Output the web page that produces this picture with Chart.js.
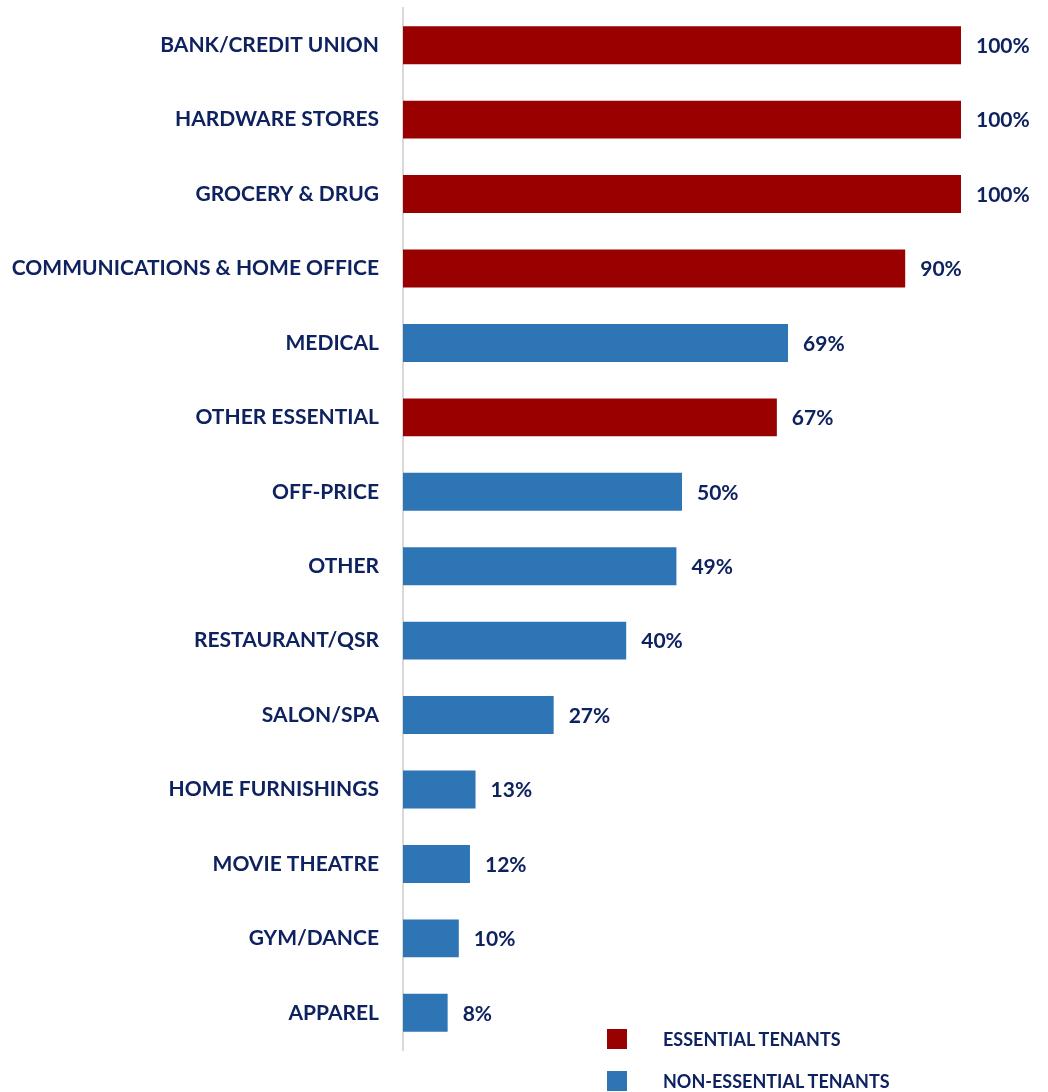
<!DOCTYPE html>
<html>
<head>
<meta charset="utf-8">
<script src="https://cdn.jsdelivr.net/npm/chart.js@4.4.1/dist/chart.umd.min.js"></script>
<style>
	body { margin: 0; background: #fff; }
	#wrap { position: relative; width: 1048px; height: 1092px; }
	canvas { display: block; }
	.legend { position: absolute; left: 607px; font: bold 18px Lato, sans-serif; color: #0f2260; }
	.legend span { position: absolute; left: 0; width: 20px; height: 20px; }
	.legend div { position: absolute; left: 56px; white-space: nowrap; line-height: 20px; }
</style>
</head>
<body>
<div id="wrap">
	<canvas id="tenantChart" width="1048" height="1092"></canvas>
	<div class="legend" style="top:1029px"><span style="background:#990000"></span><div>ESSENTIAL TENANTS</div></div>
	<div class="legend" style="top:1071px"><span style="background:#2E75B6"></span><div>NON-ESSENTIAL TENANTS</div></div>
</div>
<script>
// categories, top to bottom
const categories = ["BANK/CREDIT UNION", "HARDWARE STORES", "GROCERY & DRUG", "COMMUNICATIONS & HOME OFFICE", "MEDICAL", "OTHER ESSENTIAL", "OFF-PRICE", "OTHER", "RESTAURANT/QSR", "SALON/SPA", "HOME FURNISHINGS", "MOVIE THEATRE", "GYM/DANCE", "APPAREL"];
const values = [100, 100, 100, 90, 69, 67, 50, 49, 40, 27, 13, 12, 10, 8];
const essential = [true, true, true, true, false, true, false, false, false, false, false, false, false, false];

const essentialColor = "#990000";
const nonEssentialColor = "#2E75B6";
const textColor = "#0f2260";

// draws the % labels at the end of each bar
const valueLabels = {
	id: 'valueLabels',
	afterDatasetsDraw(chart) {
		const ctx = chart.ctx;
		const meta = chart.getDatasetMeta(0);
		ctx.save();
		ctx.font = "bold 21px Lato, sans-serif";
		ctx.fillStyle = textColor;
		ctx.textAlign = "left";
		ctx.textBaseline = "middle";
		meta.data.forEach((bar, i) => {
			ctx.fillText(values[i] + "%", bar.x + 15, bar.y + 1);
		});
		ctx.restore();
	}
};

new Chart(document.getElementById("tenantChart"), {
	type: "bar",
	data: {
		labels: categories,
		datasets: [{
			data: values,
			backgroundColor: essential.map(e => e ? essentialColor : nonEssentialColor),
			barPercentage: 0.51,
			categoryPercentage: 1
		}]
	},
	options: {
		indexAxis: "y",
		responsive: false,
		animation: false,
		layout: { padding: { top: 8, right: 87, bottom: 42, left: 0 } },
		plugins: {
			legend: { display: false },
			tooltip: { enabled: false }
		},
		scales: {
			x: { display: false, min: 0, max: 100 },
			y: {
				afterFit(scale) {
					scale.width = 403;
					scale.paddingTop = 0;
					scale.paddingBottom = 0;
				},
				grid: { display: false },
				border: { display: true, color: "#D9D9D9", width: 2 },
				ticks: {
					color: textColor,
					padding: 16,
					font: { family: "Lato, sans-serif", weight: "bold", size: 21 }
				}
			}
		}
	},
	plugins: [valueLabels]
});
</script>
</body>
</html>
